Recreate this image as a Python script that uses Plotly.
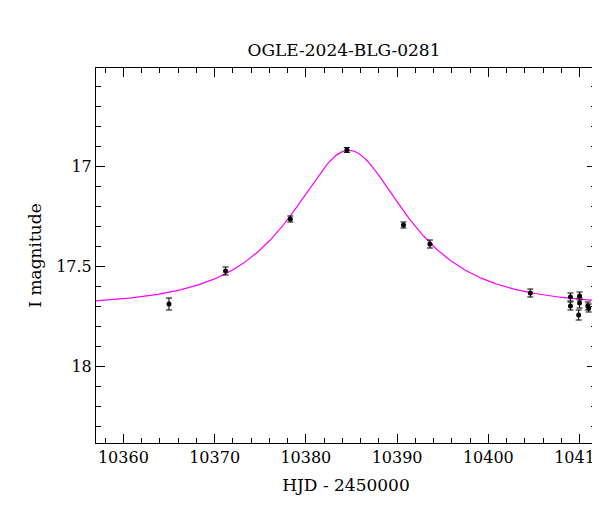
import numpy as np
import plotly.graph_objects as go

hjd = [10365.0, 10371.2, 10378.3, 10384.5, 10390.7, 10393.6, 10404.6,
       10409.0, 10409.0, 10410.0, 10410.0, 10409.9, 10410.9, 10411.0, 10411.7]
mag = [17.69, 17.525, 17.265, 16.92, 17.295, 17.39, 17.635,
       17.655, 17.70, 17.65, 17.685, 17.745, 17.70, 17.71, 17.65]
err = [0.03, 0.02, 0.015, 0.012, 0.015, 0.02, 0.02,
       0.02, 0.02, 0.02, 0.025, 0.025, 0.02, 0.02, 0.02]

# PSPL model parameters
t0, u0, tE, I0 = 10384.7, 0.54, 10.5, 17.70
t = np.linspace(10357, 10412, 600)
u = np.sqrt(u0**2 + ((t - t0) / tE)**2)
A = (u**2 + 2) / (u * np.sqrt(u**2 + 4))
model = I0 - 2.5 * np.log10(A)

fig = go.Figure()
fig.add_trace(go.Scatter(x=t, y=model, mode="lines", line=dict(color="#ff00ff", width=1.2), hoverinfo="skip"))
fig.add_trace(go.Scatter(x=hjd, y=mag, mode="markers",
                         marker=dict(color="black", size=5),
                         error_y=dict(type="data", array=err, color="black", thickness=1, width=3)))
axis = dict(showline=True, linecolor="black", linewidth=1, mirror="allticks", ticks="inside",
            ticklen=9, tickwidth=1, tickcolor="black", showgrid=False, zeroline=False, automargin=False,
            tickfont=dict(size=16, color="black"), title_font=dict(size=17, color="black"))
fig.update_xaxes(range=[10357.0, 10411.8], tickvals=[10360, 10370, 10380, 10390, 10400, 10410],
                 ticktext=["10360", "10370", "10380", "10390", "10400", "10410"],
                 title_text="HJD - 2450000", title_standoff=12,
                 minor=dict(dtick=2, ticks="inside", ticklen=5, tickcolor="black", showgrid=False), **axis)
fig.update_yaxes(range=[18.385, 16.51], tickvals=[17, 17.5, 18], ticktext=["17", "17.5", "18"],
                 title_text="I magnitude", title_standoff=10,
                 minor=dict(dtick=0.1, ticks="inside", ticklen=5, tickcolor="black", showgrid=False), **axis)
fig.update_layout(width=600, height=512, showlegend=False, plot_bgcolor="white", paper_bgcolor="white",
                  font=dict(family="DejaVu Serif", color="black"),
                  title=dict(text="OGLE-2024-BLG-0281", x=0.56, xanchor="center", y=0.93, font=dict(size=17)),
                  margin=dict(l=88, r=12, t=60, b=77, autoexpand=False))
fig.write_html("out.html")
